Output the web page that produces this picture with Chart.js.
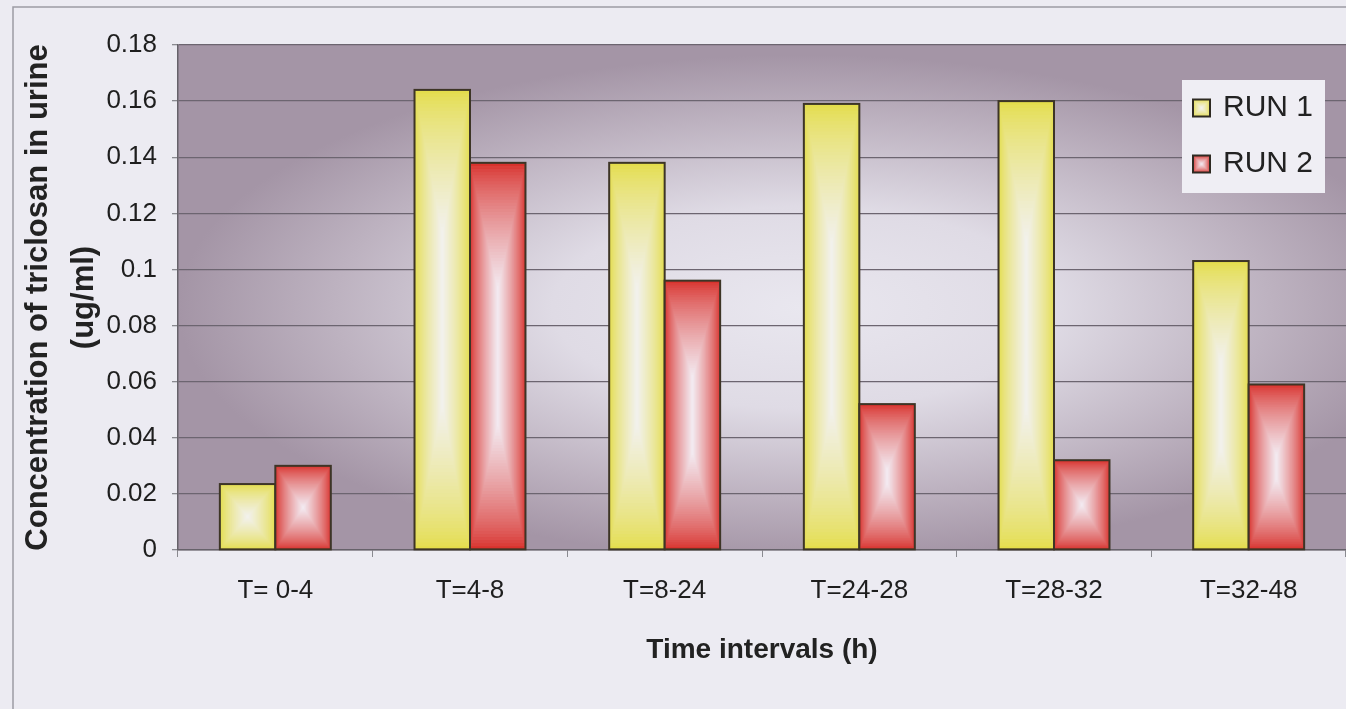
<!DOCTYPE html>
<html>
<head>
<meta charset="utf-8">
<title>Triclosan in urine</title>
<script src="https://cdn.jsdelivr.net/npm/chart.js@4.4.0/dist/chart.umd.min.js"></script>
<style>
    html, body { margin: 0; padding: 0; background: #ecebf2; }
    #wrap { width: 1346px; height: 709px; }
</style>
</head>
<body>
<div id="wrap"><canvas id="chart" width="1346" height="709"></canvas></div>
<script>
// data
const categories = ['T= 0-4', 'T=4-8', 'T=8-24', 'T=24-28', 'T=28-32', 'T=32-48'];
const run1 = [0.0235, 0.164, 0.138, 0.159, 0.160, 0.103];
const run2 = [0.030, 0.138, 0.096, 0.052, 0.032, 0.059];
const seriesNames = ['RUN 1', 'RUN 2'];
const yMin = 0;
const yMax = 0.18;
const yStep = 0.02;

const FONT = 'Liberation Sans, Arial, sans-serif';

// bar colours: edge colour and centre colour of the gradient
const fills = [
    { edge: [228, 221, 76], mid: [242, 241, 236] },
    { edge: [216, 50, 45], mid: [243, 233, 240] }
];
const mix = (a, b, t) => `rgb(${a.map((v, i) => Math.round(v + (b[i] - v) * t)).join(',')})`;

// "from centre" gradient: nested rectangles going from edge colour to centre colour
function paintBox(ctx, x, y, w, h, fill) {
    const hw = w / 2, hh = h / 2;
    const fade = Math.min(hh, 0.5 * hh + 30);
    const steps = 40;
    for (let k = 0; k <= steps; k++) {
        const s = k / steps;
        const ix = s * hw * 0.97;
        const iy = s * fade * 0.97;
        ctx.fillStyle = mix(fill.edge, fill.mid, Math.pow(s, 0.75));
        ctx.fillRect(x + ix, y + iy, w - 2 * ix, h - 2 * iy);
    }
}

// page background, frame and plot area gradient
const backgroundPlugin = {
    id: 'background',
    beforeDraw(chart) {
        const ctx = chart.ctx;
        const ca = chart.chartArea;
        ctx.save();
        ctx.fillStyle = '#ecebf2';
        ctx.fillRect(0, 0, chart.width, chart.height);
        ctx.strokeStyle = '#9c9ca4';
        ctx.lineWidth = 1.5;
        ctx.beginPath();
        ctx.moveTo(13, chart.height);
        ctx.lineTo(13, 7);
        ctx.lineTo(chart.width, 7);
        ctx.stroke();

        const cx = (ca.left + ca.right) / 2 + 40;
        const cy = (ca.top + ca.bottom) / 2 + 10;
        const rx = (ca.right - ca.left) / 2 + 40;
        const ry = (ca.bottom - ca.top) / 2;
        ctx.beginPath();
        ctx.rect(ca.left, ca.top, ca.right - ca.left, ca.bottom - ca.top);
        ctx.clip();
        ctx.translate(cx, cy);
        ctx.scale(rx / ry, 1);
        const g = ctx.createRadialGradient(0, 0, 0, 0, 0, ry);
        g.addColorStop(0, '#e9e7ef');
        g.addColorStop(0.4, '#dfdbe5');
        g.addColorStop(0.75, '#bdb2c0');
        g.addColorStop(1, '#a495a6');
        ctx.fillStyle = g;
        ctx.fillRect(-ry * 3, -ry * 3, ry * 6, ry * 6);
        ctx.restore();
    }
};

// gradient fill over the bars that chart.js placed
const barShadePlugin = {
    id: 'barShade',
    afterDatasetsDraw(chart) {
        const ctx = chart.ctx;
        ctx.save();
        chart.data.datasets.forEach((ds, i) => {
            const meta = chart.getDatasetMeta(i);
            meta.data.forEach(bar => {
                const p = bar.getProps(['x', 'y', 'base', 'width'], true);
                const l = p.x - p.width / 2;
                const t = Math.min(p.y, p.base);
                const h = Math.abs(p.base - p.y);
                paintBox(ctx, l, t, p.width, h, fills[i]);
                ctx.strokeStyle = '#3d3526';
                ctx.lineWidth = 2;
                ctx.strokeRect(l, t, p.width, h);
            });
        });
        ctx.restore();
    }
};

// legend box inside the plot, top right
const legendPlugin = {
    id: 'boxLegend',
    afterDraw(chart) {
        const ctx = chart.ctx;
        const ca = chart.chartArea;
        const bw = 143, bh = 113;
        const bx = ca.right - 21 - bw;
        const by = ca.top + 35;
        ctx.save();
        ctx.fillStyle = '#efeef4';
        ctx.fillRect(bx, by, bw, bh);
        chart.data.datasets.forEach((ds, i) => {
            const cy = by + 28 + i * 56;
            const s = 17;
            paintBox(ctx, bx + 11, cy - s / 2, s, s, fills[i]);
            ctx.strokeStyle = '#2e2a22';
            ctx.lineWidth = 2;
            ctx.strokeRect(bx + 11, cy - s / 2, s, s);
            ctx.fillStyle = '#222';
            ctx.font = `30px ${FONT}`;
            ctx.textBaseline = 'middle';
            ctx.textAlign = 'left';
            ctx.fillText(ds.label, bx + 41, cy);
        });
        ctx.restore();
    }
};

const ctx = document.getElementById('chart').getContext('2d');
new Chart(ctx, {
    type: 'bar',
    data: {
        labels: categories,
        datasets: [
            { label: seriesNames[0], data: run1, backgroundColor: mix(fills[0].edge, fills[0].edge, 0), borderColor: '#3d3526', borderWidth: 2 },
            { label: seriesNames[1], data: run2, backgroundColor: mix(fills[1].edge, fills[1].edge, 0), borderColor: '#3d3526', borderWidth: 2 }
        ]
    },
    options: {
        responsive: false,
        animation: false,
        categoryPercentage: 0.57,
        barPercentage: 1,
        layout: { padding: { top: 45, left: 0, right: 0, bottom: 0 } },
        plugins: {
            legend: { display: false },
            tooltip: { enabled: false }
        },
        scales: {
            x: {
                grid: { drawOnChartArea: false, drawTicks: true, tickLength: 7, color: '#8a8a90', offset: true },
                border: { display: true, color: '#66626a', width: 1.5 },
                ticks: { font: { family: FONT, size: 26 }, color: '#1e1e1e', padding: 18, maxRotation: 0, autoSkip: false },
                title: {
                    display: true,
                    text: 'Time intervals (h)',
                    font: { family: FONT, size: 28, weight: 'bold' },
                    color: '#222',
                    padding: { top: 0, bottom: 42 }
                },
                afterFit: scale => { scale.height = 159; }
            },
            y: {
                min: yMin,
                max: yMax,
                ticks: {
                    stepSize: yStep,
                    font: { family: FONT, size: 26 },
                    color: '#1e1e1e',
                    padding: 15,
                    callback: v => Number(v.toFixed(2)).toString()
                },
                grid: { color: '#6c6570', lineWidth: 1.3, tickLength: 6, tickColor: '#8a8a90' },
                border: { display: true, color: '#66626a', width: 1.5 },
                title: {
                    display: true,
                    text: ['Concentration of triclosan in urine', '(ug/ml)'],
                    font: { family: FONT, size: 31, weight: 'bold', lineHeight: 1.5 },
                    color: '#222',
                    padding: { top: 15, bottom: 0 }
                },
                afterFit: scale => { scale.width = 178; }
            }
        }
    },
    plugins: [backgroundPlugin, barShadePlugin, legendPlugin]
});
</script>
</body>
</html>
